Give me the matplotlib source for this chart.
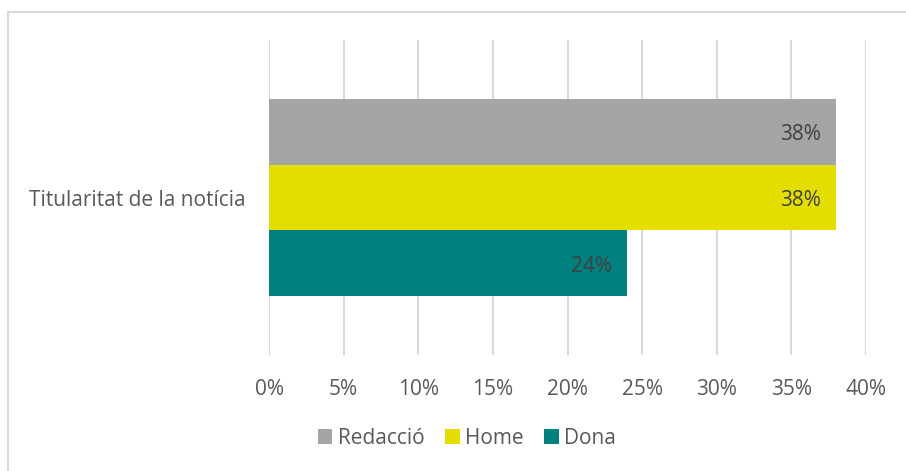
import matplotlib.pyplot as plt
from matplotlib.patches import Rectangle
from matplotlib.ticker import FuncFormatter

# data
category = "Titularitat de la notícia"
series = ["Redacció", "Home", "Dona"]
values = [38, 38, 24]
colors = ["#A5A5A5", "#E3DE00", "#00807F"]
xticks = [0, 5, 10, 15, 20, 25, 30, 35, 40]

plt.rcParams['font.family'] = ['Open Sans', 'DejaVu Sans']
text_col = "#595959"
fs = 15

fig = plt.figure(figsize=(9.06, 4.71), dpi=100)
ax = fig.add_axes([269 / 906, 1 - 355 / 471, (866 - 269) / 906, (355 - 40) / 471])

# outer frame of the chart area
fig.patches.append(Rectangle((8 / 906, -0.05), 1.1, 1 - 12 / 471 + 0.05,
                             transform=fig.transFigure, fill=False,
                             edgecolor="#D9D9D9", linewidth=1.5))

bar_h = 0.209
ypos = [bar_h, 0, -bar_h]
bars = []
for name, v, c, y in zip(series, values, colors, ypos):
    b = ax.barh(y, v, height=bar_h, color=c, label=name, zorder=3)
    bars.append(b)
    ax.text(v - 1.0, y - 0.01, f"{v}%", ha="right", va="center",
            fontsize=fs, color="#404040", zorder=4)

ax.set_xlim(0, 40)
ax.set_ylim(-0.5, 0.5)
ax.set_xticks(xticks)
ax.xaxis.set_major_formatter(FuncFormatter(lambda x, p: f"{x:.0f}%"))
ax.grid(axis="x", color="#D9D9D9", linewidth=1.5, zorder=0)
ax.set_yticks([0])
ax.set_yticklabels([category])
ax.tick_params(axis="both", length=0, labelsize=fs, labelcolor=text_col)
ax.tick_params(axis="x", pad=17)
ax.tick_params(axis="y", pad=17)
for s in ax.spines.values():
    s.set_visible(False)

fig.legend(handles=[b for b in bars], labels=series, loc="center",
           bbox_to_anchor=(467 / 906, 1 - 438 / 471), ncol=3, frameon=False,
           fontsize=fs, labelcolor=text_col, handlelength=0.7,
           handleheight=0.7, handletextpad=0.25, columnspacing=1.0)

fig.savefig("out.png", dpi=100)
